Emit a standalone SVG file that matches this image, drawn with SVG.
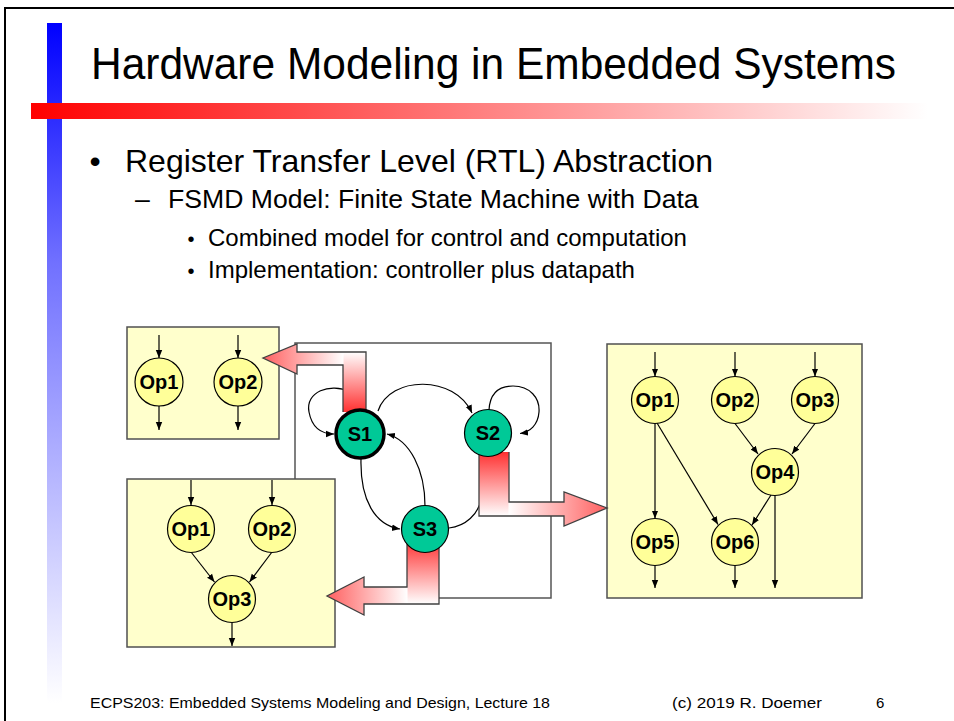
<svg xmlns="http://www.w3.org/2000/svg" width="954" height="721" viewBox="0 0 954 721">
<defs>
<linearGradient id="blueBar" x1="0" y1="0" x2="0" y2="1">
<stop offset="0" stop-color="#0000ff"/>
<stop offset="0.35" stop-color="#7070ff"/>
<stop offset="1" stop-color="#ffffff"/>
</linearGradient>
<linearGradient id="redBar" x1="0" y1="0" x2="1" y2="0">
<stop offset="0" stop-color="#ff0000"/>
<stop offset="1" stop-color="#ffffff"/>
</linearGradient>
<linearGradient id="gUp" x1="0" y1="1" x2="0" y2="0">
<stop offset="0" stop-color="#ff3030"/>
<stop offset="1" stop-color="#ffffff"/>
</linearGradient>
<linearGradient id="gDown" x1="0" y1="0" x2="0" y2="1">
<stop offset="0" stop-color="#ff3030"/>
<stop offset="1" stop-color="#ffffff"/>
</linearGradient>
<linearGradient id="gLeft" x1="1" y1="0" x2="0" y2="0">
<stop offset="0" stop-color="#ffffff"/>
<stop offset="1" stop-color="#ff6060"/>
</linearGradient>
<linearGradient id="gRight" x1="0" y1="0" x2="1" y2="0">
<stop offset="0" stop-color="#ffffff"/>
<stop offset="1" stop-color="#ff6060"/>
</linearGradient>
<marker id="ah" viewBox="0 0 10 10" refX="10" refY="5" markerWidth="8" markerHeight="8" markerUnits="userSpaceOnUse" orient="auto">
<path d="M0,1 L10,5 L0,9 z" fill="#000"/>
</marker>
</defs>
<style>
.t{font-family:"Liberation Sans",Arial,sans-serif;fill:#000}
.box{fill:#ffffcc;stroke:#505050;stroke-width:1.5}
.op{fill:#ffff99;stroke:#000;stroke-width:1.2}
.st{fill:#00c997;stroke:#000;stroke-width:1.2}
.lbl{font-family:"Liberation Sans",Arial,sans-serif;font-weight:bold;font-size:20px;text-anchor:middle;fill:#000}
.c{fill:none;stroke:#000;stroke-width:1.2}
.ca{fill:none;stroke:#000;stroke-width:1.2;marker-end:url(#ah)}
.frame{fill:none;stroke:#555;stroke-width:1.5}
.big{stroke:#404040;stroke-width:1.3;fill:none}
</style>
<rect width="954" height="721" fill="#fff"/>
<path d="M5,721 L5,8 L954,8" fill="none" stroke="#000" stroke-width="2"/>
<rect x="47" y="23" width="15" height="680" fill="url(#blueBar)"/>
<rect x="31" y="103" width="897" height="16" fill="url(#redBar)"/>
<text class="t" x="91" y="79" font-size="44" textLength="805" lengthAdjust="spacingAndGlyphs">Hardware Modeling in Embedded Systems</text>
<text class="t" x="95" y="172" font-size="32" text-anchor="middle">•</text>
<text class="t" x="125" y="172" font-size="32">Register Transfer Level (RTL) Abstraction</text>
<text class="t" x="135" y="208" font-size="26.6">–</text>
<text class="t" x="168" y="208" font-size="26.6">FSMD Model: Finite State Machine with Data</text>
<text class="t" x="191" y="246" font-size="20" text-anchor="middle">•</text>
<text class="t" x="208" y="246" font-size="24">Combined model for control and computation</text>
<text class="t" x="191" y="278" font-size="20" text-anchor="middle">•</text>
<text class="t" x="208" y="278" font-size="24">Implementation: controller plus datapath</text>

<g id="controllerFrame">
<rect class="frame" x="295" y="343" width="256" height="255"/>
</g>

<g id="box1">
<rect class="box" x="127" y="327" width="152" height="112"/>
</g>
<g id="box2">
<rect class="box" x="127" y="479" width="208" height="168"/>
</g>
<g id="box3">
<rect class="box" x="607" y="344" width="255" height="254"/>
</g>

<g id="connectors">
<!-- box1 -->
<line class="ca" x1="159" y1="335" x2="159" y2="358"/>
<line class="ca" x1="238" y1="335" x2="238" y2="358"/>
<line class="ca" x1="159" y1="406" x2="159" y2="430"/>
<line class="ca" x1="238" y1="406" x2="238" y2="430"/>
<!-- box2 -->
<line class="ca" x1="191" y1="480" x2="191" y2="505"/>
<line class="ca" x1="272" y1="480" x2="272" y2="505"/>
<line class="ca" x1="191" y1="552" x2="214.5" y2="582"/>
<line class="ca" x1="272" y1="552" x2="249.5" y2="582"/>
<line class="ca" x1="232" y1="622.5" x2="232" y2="646"/>
<!-- box3 -->
<line class="ca" x1="655" y1="352" x2="655" y2="376.5"/>
<line class="ca" x1="735" y1="352" x2="735" y2="376.5"/>
<line class="ca" x1="815" y1="352" x2="815" y2="376.5"/>
<line class="ca" x1="655" y1="423.5" x2="655" y2="518.5"/>
<line class="ca" x1="657" y1="423" x2="718" y2="524.5"/>
<line class="ca" x1="735" y1="423.5" x2="758" y2="454"/>
<line class="ca" x1="815" y1="423.5" x2="792" y2="454"/>
<line class="ca" x1="771" y1="495" x2="752" y2="525"/>
<line class="ca" x1="775" y1="495.5" x2="775" y2="588"/>
<line class="ca" x1="655" y1="565.5" x2="655" y2="588"/>
<line class="ca" x1="735" y1="565.5" x2="735" y2="588"/>
<!-- FSM transitions -->
<path class="ca" d="M350,392 C330,382 305,392 309,412 C312,428 322,434 334,434"/>
<path class="ca" d="M489,410 C490,392 500,386 513,386 C530,386 540,398 539,412 C538,425 530,432 520,433.5"/>
<path class="ca" d="M378,411 C390,375 455,375 472,413"/>
<path class="ca" d="M361,459 C360,500 375,525 400,529"/>
<path class="ca" d="M425,506 C425,470 410,440 387,434"/>
<path class="ca" d="M449,528 C466,526 478,514 481,500 L484,470"/>
</g>

<g id="arrowS1">
<rect x="343" y="352" width="23" height="60" fill="url(#gUp)"/>
<path d="M343.5,352 L343.5,365 L297,365 L297,374 L263,358 L297,344 L297,352 Z" fill="url(#gLeft)"/>
<path class="big" d="M343,412 L343,365 L297,365 L297,374 L263,358 L297,344 L297,352 L366,352 L366,412"/>
</g>
<g id="arrowS2">
<rect x="479" y="452" width="30" height="64" fill="url(#gDown)"/>
<path d="M508.5,502 L564,502 L564,492 L607,508 L564,526 L564,516 L508.5,516 Z" fill="url(#gRight)"/>
<path class="big" d="M479,452 L479,516 L564,516 L564,526 L607,508 L564,492 L564,502 L509,502 L509,452"/>
</g>
<g id="arrowS3">
<rect x="407" y="540" width="32" height="64" fill="url(#gDown)"/>
<path d="M407.5,587 L364,587 L364,577 L327,596 L364,615 L364,604 L407.5,604 Z" fill="url(#gLeft)"/>
<path class="big" d="M407,540 L407,587 L364,587 L364,577 L327,596 L364,615 L364,604 L439,604 L439,540"/>
</g>

<g id="S1"><circle cx="360" cy="434" r="24" fill="#00c997" stroke="#000" stroke-width="3.5"/><text class="lbl" x="360" y="441">S1</text></g>
<g id="S2"><circle class="st" cx="488" cy="433" r="23.5"/><text class="lbl" x="488" y="440">S2</text></g>
<g id="S3"><circle class="st" cx="425" cy="529" r="23.5"/><text class="lbl" x="425" y="536">S3</text></g>

<g id="b1op1"><circle class="op" cx="159" cy="382" r="24"/><text class="lbl" x="159" y="389">Op1</text></g>
<g id="b1op2"><circle class="op" cx="238" cy="382" r="24"/><text class="lbl" x="238" y="389">Op2</text></g>

<g id="b2op1"><circle class="op" cx="191" cy="529" r="23.5"/><text class="lbl" x="191" y="536">Op1</text></g>
<g id="b2op2"><circle class="op" cx="272" cy="529" r="23.5"/><text class="lbl" x="272" y="536">Op2</text></g>
<g id="b2op3"><circle class="op" cx="232" cy="599" r="23.5"/><text class="lbl" x="232" y="606">Op3</text></g>

<g id="b3op1"><circle class="op" cx="655" cy="400" r="23.5"/><text class="lbl" x="655" y="407">Op1</text></g>
<g id="b3op2"><circle class="op" cx="735" cy="400" r="23.5"/><text class="lbl" x="735" y="407">Op2</text></g>
<g id="b3op3"><circle class="op" cx="815" cy="400" r="23.5"/><text class="lbl" x="815" y="407">Op3</text></g>
<g id="b3op4"><circle class="op" cx="775" cy="472" r="23.5"/><text class="lbl" x="775" y="479">Op4</text></g>
<g id="b3op5"><circle class="op" cx="655" cy="542" r="23.5"/><text class="lbl" x="655" y="549">Op5</text></g>
<g id="b3op6"><circle class="op" cx="735" cy="542" r="23.5"/><text class="lbl" x="735" y="549">Op6</text></g>

<text class="t" x="90" y="708" font-size="15" textLength="460" lengthAdjust="spacingAndGlyphs">ECPS203: Embedded Systems Modeling and Design, Lecture 18</text>
<text class="t" x="672" y="708" font-size="15" textLength="150" lengthAdjust="spacingAndGlyphs">(c) 2019 R. Doemer</text>
<text class="t" x="876" y="708" font-size="15">6</text>
</svg>
